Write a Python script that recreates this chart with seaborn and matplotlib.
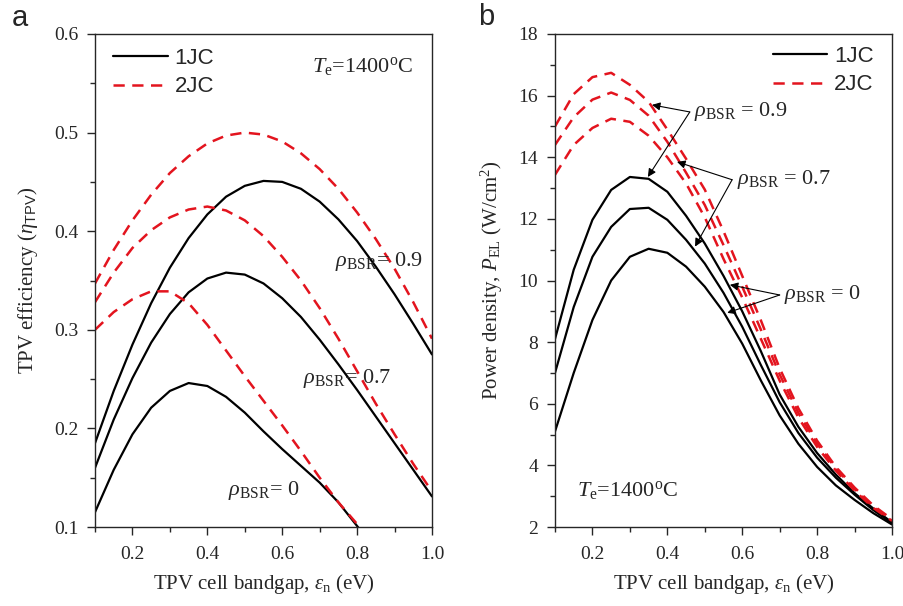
import matplotlib
matplotlib.use("Agg")
import matplotlib.pyplot as plt
import seaborn as sns
from matplotlib.lines import Line2D
from matplotlib.ticker import MultipleLocator

# ширина запрещённой зоны (eV)
bandgap = [0.10, 0.15, 0.20, 0.25, 0.30, 0.35, 0.40, 0.45, 0.50, 0.55,
           0.60, 0.65, 0.70, 0.75, 0.80, 0.85, 0.90, 0.95, 1.00]

# (a) КПД TPV
eff_1jc_09 = [0.185, 0.238, 0.285, 0.327, 0.363, 0.393, 0.417, 0.435, 0.446, 0.451,
              0.450, 0.443, 0.430, 0.412, 0.390, 0.364, 0.336, 0.306, 0.275]
eff_1jc_07 = [0.160, 0.209, 0.251, 0.287, 0.316, 0.338, 0.352, 0.358, 0.356, 0.347,
              0.332, 0.313, 0.290, 0.265, 0.239, 0.212, 0.185, 0.158, 0.131]
eff_1jc_00 = [0.115, 0.158, 0.194, 0.221, 0.238, 0.246, 0.243, 0.232, 0.216, 0.197,
              0.179, 0.162, 0.145, 0.125, 0.101, 0.077]
eff_2jc_09 = [0.347, 0.381, 0.411, 0.437, 0.459, 0.476, 0.489, 0.497, 0.500, 0.498,
              0.491, 0.479, 0.463, 0.443, 0.419, 0.392, 0.362, 0.328, 0.291]
eff_2jc_07 = [0.328, 0.358, 0.383, 0.401, 0.414, 0.422, 0.425, 0.421, 0.411, 0.395,
              0.374, 0.350, 0.322, 0.291, 0.258, 0.225, 0.194, 0.164, 0.136]
eff_2jc_00 = [0.300, 0.318, 0.331, 0.339, 0.339, 0.327, 0.305, 0.279, 0.253, 0.228,
              0.203, 0.177, 0.150, 0.125, 0.103, 0.082]

# (b) плотность мощности (W/cm2)
pow_1jc_09 = [8.10, 10.35, 11.97, 12.94, 13.36, 13.30, 12.88, 12.10, 11.20, 10.15,
              9.00, 7.70, 6.30, 5.25, 4.40, 3.70, 3.10, 2.60, 2.15]
pow_1jc_07 = [7.00, 9.14, 10.77, 11.74, 12.32, 12.36, 11.97, 11.32, 10.55, 9.60,
              8.50, 7.25, 6.05, 5.05, 4.25, 3.60, 3.05, 2.55, 2.12]
pow_1jc_00 = [5.10, 7.00, 8.72, 10.00, 10.77, 11.03, 10.90, 10.45, 9.80, 8.98,
              7.95, 6.75, 5.62, 4.70, 3.95, 3.35, 2.88, 2.45, 2.08]
pow_2jc_09 = [15.00, 16.05, 16.60, 16.74, 16.35, 15.80, 14.90, 13.95, 12.95, 11.60,
              10.15, 8.70, 7.15, 5.85, 4.80, 3.95, 3.28, 2.70, 2.25]
pow_2jc_07 = [14.40, 15.30, 15.87, 16.10, 15.86, 15.35, 14.50, 13.50, 12.45, 11.15,
              9.80, 8.40, 6.95, 5.70, 4.70, 3.90, 3.23, 2.66, 2.22]
pow_2jc_00 = [13.43, 14.40, 14.95, 15.25, 15.15, 14.70, 14.00, 13.15, 12.05, 10.70,
              9.45, 8.10, 6.75, 5.55, 4.60, 3.83, 3.18, 2.62, 2.20]

sns.set_style("ticks")
plt.rcParams["font.family"] = ["Liberation Serif", "DejaVu Serif"]
plt.rcParams["mathtext.fontset"] = "custom"
plt.rcParams["mathtext.rm"] = "Liberation Serif"
plt.rcParams["mathtext.it"] = "Liberation Serif:italic"
plt.rcParams["mathtext.sf"] = "Liberation Sans"
plt.rcParams["axes.linewidth"] = 1.0

RED = "#e3141e"
DASH = (0, (4.5, 3.0))

fig = plt.figure(figsize=(9.04, 6.06), dpi=100)
ax1 = fig.add_axes([95 / 904, 79 / 606, 337 / 904, 493 / 606])
ax2 = fig.add_axes([555 / 904, 79 / 606, 337 / 904, 493 / 606])


def draw(ax, solid, dashed):
    for s in solid:
        sns.lineplot(x=bandgap[:len(s)], y=s, color="black", lw=1.6, ax=ax)
    for d in dashed:
        sns.lineplot(x=bandgap[:len(d)], y=d, color=RED, lw=1.8, linestyle=DASH, ax=ax)


draw(ax1, [eff_1jc_09, eff_1jc_07, eff_1jc_00], [eff_2jc_09, eff_2jc_07, eff_2jc_00])
draw(ax2, [pow_1jc_09, pow_1jc_07, pow_1jc_00], [pow_2jc_09, pow_2jc_07, pow_2jc_00])

ax1.set_xlim(0.1, 1.0)
ax1.set_ylim(0.1, 0.6)
ax1.yaxis.set_major_locator(MultipleLocator(0.1))
ax1.yaxis.set_minor_locator(MultipleLocator(0.05))
ax2.set_xlim(0.1, 1.0)
ax2.set_ylim(2, 18)
ax2.yaxis.set_major_locator(MultipleLocator(2))
ax2.yaxis.set_minor_locator(MultipleLocator(1))

handles = [Line2D([], [], color="black", lw=1.6),
           Line2D([], [], color=RED, lw=1.8, linestyle=DASH)]

for ax in (ax1, ax2):
    ax.xaxis.set_major_locator(MultipleLocator(0.2))
    ax.xaxis.set_minor_locator(MultipleLocator(0.1))
    ax.tick_params(which="major", direction="out", length=6, width=1.0, labelsize=14, pad=6)
    ax.tick_params(axis="x", which="major", pad=8)
    ax.tick_params(which="minor", direction="out", length=3.5, width=1.0)
    ax.set_xlabel(r"TPV cell bandgap, $\varepsilon_{\mathrm{n}}$ (eV)", fontsize=15, labelpad=6)
    for sp in ax.spines.values():
        sp.set_visible(True)
    ax.set_xticks([0.2, 0.4, 0.6, 0.8, 1.0])
    ax.set_xticklabels(["0.2", "0.4", "0.6", "0.8", "1.0"])

ax1.set_yticklabels(["%.1f" % v for v in ax1.get_yticks()])

ax1.set_ylabel(r"TPV efficiency ($\eta_{\mathsf{TPV}}$)", fontsize=15, labelpad=10)
ax2.set_ylabel(r"Power density, $P_{\mathrm{EL}}$ (W/cm$^{2}$)", fontsize=15, labelpad=10)

leg_font = {"family": "Liberation Sans", "size": 16}
ax1.legend(handles, ["1JC", "2JC"], loc="upper left", frameon=False, prop=leg_font,
           handlelength=2.45, handletextpad=0.3, labelspacing=0.35,
           bbox_to_anchor=(-0.005, 1.013))
ax2.legend(handles, ["1JC", "2JC"], loc="upper right", frameon=False, prop=leg_font,
           handlelength=2.45, handletextpad=0.3, labelspacing=0.35,
           bbox_to_anchor=(1.005, 1.017))

te = r"$T_{\mathrm{e}}$=1400$^{\mathrm{o}}$C"
ax1.text(0.68, 0.567, te, fontsize=16, va="center")
ax2.text(0.159, 3.2, te, fontsize=16, va="center")

# подписи rho_BSR слева
ax1.text(0.74, 0.369, r"$\rho_{\mathrm{BSR}}$= 0.9", fontsize=16, va="center")
ax1.text(0.655, 0.251, r"$\rho_{\mathrm{BSR}}$= 0.7", fontsize=16, va="center")
ax1.text(0.455, 0.137, r"$\rho_{\mathrm{BSR}}$= 0", fontsize=16, va="center")

# подписи со стрелками справа
arrow = dict(arrowstyle="-|>", color="black", lw=0.8, shrinkA=0, shrinkB=0, mutation_scale=12)
notes = [
    ("= 0.9", (0.46, 15.47), [(0.359, 15.7), (0.348, 13.36)]),
    ("= 0.7", (0.573, 13.27), [(0.426, 13.85), (0.474, 11.1)]),
    ("= 0", (0.70, 9.53), [(0.567, 9.86), (0.56, 8.95)]),
]
for txt, vertex, tips in notes:
    for tip in tips:
        ax2.annotate("", xy=tip, xytext=vertex, arrowprops=arrow)
    ax2.text(vertex[0] + 0.012, vertex[1], r"$\rho_{\mathrm{BSR}}$ " + txt, fontsize=16, va="center")

fig.text(12 / 904, 1 - 18 / 606, "a", fontsize=21, family="Liberation Sans", va="center")
fig.text(478 / 904, 1 - 17 / 606, "b", fontsize=21, family="Liberation Sans", va="center")

fig.savefig("out.png", dpi=100)
